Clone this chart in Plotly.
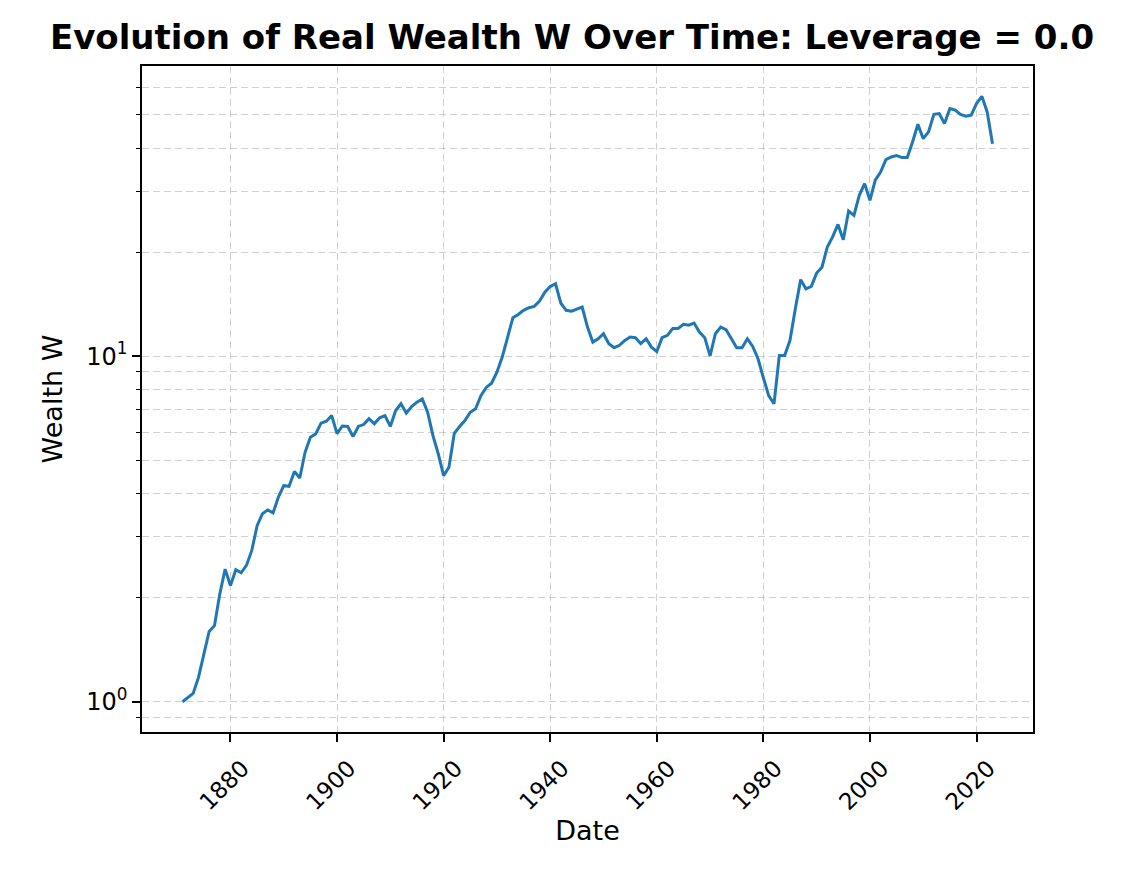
import numpy as np
import plotly.graph_objects as go

years = list(range(1871, 2024))
wealth = [
    1.00, 1.03, 1.057, 1.176, 1.374, 1.598, 1.66, 2.05, 2.42, 2.17,   # 1871-1880
    2.41, 2.36, 2.48, 2.74, 3.23, 3.50, 3.59, 3.52, 3.91, 4.22,       # 1881-1890
    4.20, 4.64, 4.44, 5.27, 5.83, 5.96, 6.40, 6.48, 6.73, 5.97,       # 1891-1900
    6.28, 6.26, 5.85, 6.26, 6.34, 6.59, 6.37, 6.63, 6.73, 6.26,       # 1901-1910
    6.96, 7.28, 6.84, 7.15, 7.36, 7.52, 6.88, 5.89, 5.21, 4.51,       # 1911-1920
    4.77, 5.98, 6.26, 6.51, 6.88, 7.04, 7.69, 8.12, 8.35, 8.99,       # 1921-1930
    9.94, 11.35, 12.92, 13.2, 13.57, 13.81, 13.93, 14.43, 15.32, 15.9, # 1931-1940
    16.2, 14.23, 13.57, 13.5, 13.71, 13.87, 12.14, 10.98, 11.23, 11.61, # 1941-1950
    10.87, 10.58, 10.75, 11.11, 11.36, 11.31, 10.87, 11.23, 10.62, 10.32, # 1951-1960
    11.31, 11.49, 12.02, 12.02, 12.36, 12.29, 12.47, 11.74, 11.31, 10.02, # 1961-1970
    11.61, 12.14, 11.93, 11.23, 10.58, 10.58, 11.23, 10.67, 9.83, 8.66,   # 1971-1980
    7.69, 7.28, 10.05, 10.05, 11.11, 13.71, 16.65, 15.67, 15.92, 17.39,   # 1981-1990
    18.09, 20.7, 22.13, 24.06, 21.73, 26.3, 25.55, 29.2, 31.57, 28.25,    # 1991-2000
    32.3, 34.1, 37.06, 37.7, 38.05, 37.55, 37.55, 41.67, 46.9, 42.6,      # 2001-2010
    44.56, 50.1, 50.35, 47.1, 52.06, 51.5, 50.1, 49.45, 49.8, 53.8,       # 2011-2020
    56.5, 50.9, 41.2,                                                     # 2021-2023
]

x_ticks = [1880, 1900, 1920, 1940, 1960, 1980, 2000, 2020]
y_major = [1, 10]
y_major_text = ["10<sup>0</sup>", "10<sup>1</sup>"]
y_minor = [0.9, 2, 3, 4, 5, 6, 7, 8, 9, 20, 30, 40, 50, 60]

# matplotlib-like 5% margins
xspan = years[-1] - years[0]
xrange_ = [years[0] - 0.05 * xspan, years[-1] + 0.05 * xspan]
lmin, lmax = np.log10(min(wealth)), np.log10(max(wealth))
lspan = lmax - lmin
yrange_ = [lmin - 0.05 * lspan, lmax + 0.05 * lspan]

FONT = "DejaVu Sans"
GRID = "rgba(170,170,170,0.55)"

fig = go.Figure()
fig.add_trace(go.Scatter(x=years, y=wealth, mode="lines",
                         line=dict(color="#1f77b4", width=3),
                         showlegend=False))

fig.update_layout(
    width=1134, height=872,
    paper_bgcolor="white", plot_bgcolor="white",
    margin=dict(l=134, r=109, t=58, b=148),
    font=dict(family=FONT, color="black"),
    title=dict(text="<b>Evolution of Real Wealth W Over Time: Leverage = 0.0</b>",
               font=dict(family=FONT, size=34, color="black"),
               xref="container", yref="container",
               x=564 / 1134, y=1 - 29 / 872, xanchor="center", yanchor="middle"),
)

fig.update_xaxes(
    range=xrange_, tickmode="array", tickvals=x_ticks, tickangle=-45,
    tickfont=dict(family=FONT, size=23, color="black"),
    ticklabelshift=12, ticklabelstandoff=4,
    ticks="outside", ticklen=8, tickwidth=1.5, tickcolor="black",
    showline=True, linecolor="black", linewidth=1.5, mirror=True,
    showgrid=True, gridcolor=GRID, griddash="7px,4px", gridwidth=1.2,
    zeroline=False,
    title=dict(text="Date", font=dict(family=FONT, size=27, color="black"), standoff=6),
)

fig.update_yaxes(
    type="log", range=yrange_, tickmode="array", tickvals=y_major, ticktext=y_major_text,
    tickfont=dict(family=FONT, size=24, color="black"),
    ticks="outside", ticklen=8, tickwidth=1.5, tickcolor="black",
    showline=True, linecolor="black", linewidth=1.5, mirror=True,
    showgrid=True, gridcolor=GRID, griddash="7px,4px", gridwidth=1.2,
    zeroline=False,
    minor=dict(tickmode="array", tickvals=y_minor, ticks="outside", ticklen=4,
               tickwidth=1.2, tickcolor="black", showgrid=True,
               gridcolor=GRID, griddash="7px,4px", gridwidth=1.2),
    title=dict(text="Wealth W", font=dict(family=FONT, size=27, color="black"), standoff=16),
)

fig.write_html("out.html")
